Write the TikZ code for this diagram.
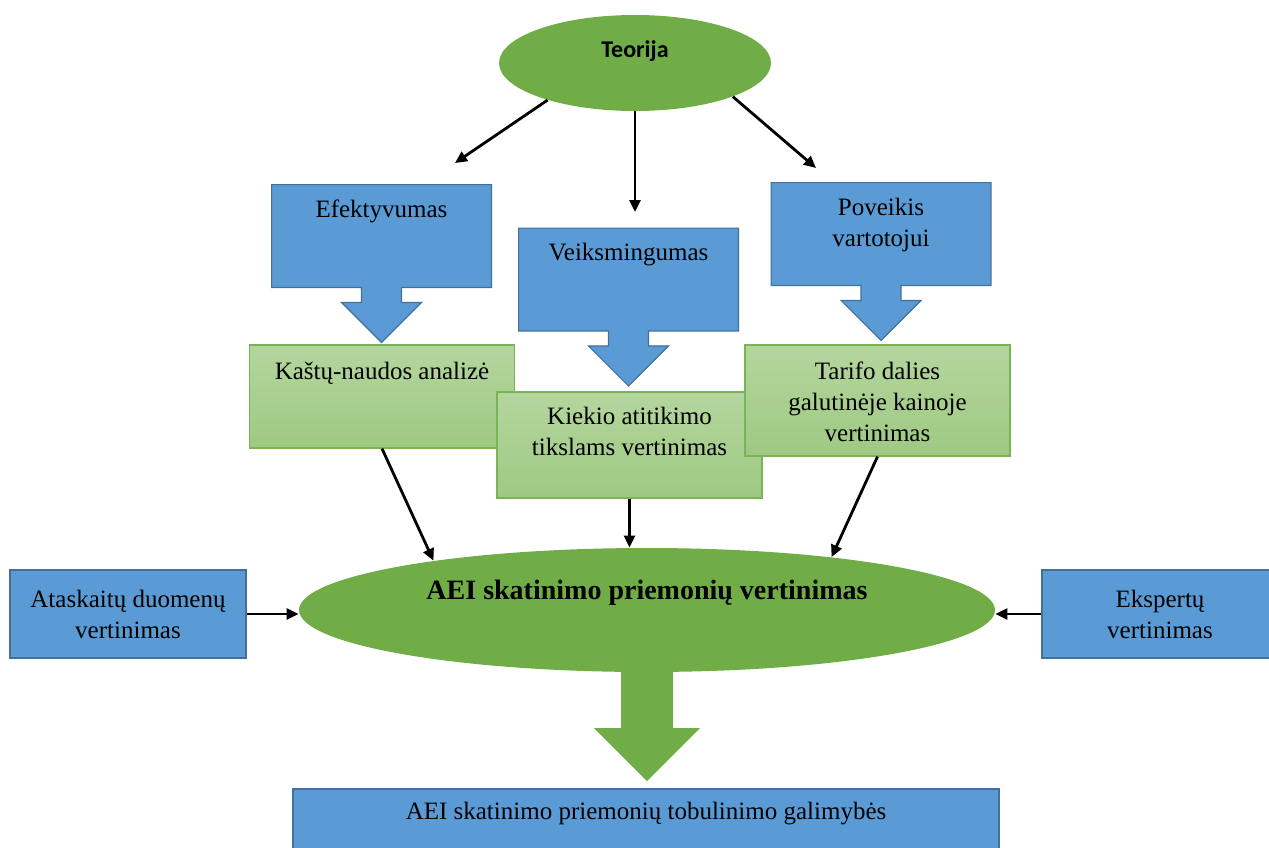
\documentclass[tikz,border=0pt]{standalone}
\usepackage{fontspec}
\setmainfont{Liberation Serif}
\newfontfamily\teorfont{Carlito}
\usetikzlibrary{shapes.geometric, arrows.meta, backgrounds}

\definecolor{boxblue}{RGB}{91,155,213}
\definecolor{boxline}{RGB}{65,113,156}
\definecolor{ovalgreen}{RGB}{112,173,71}
\definecolor{palegreen}{RGB}{180,214,158}
\definecolor{midgreen}{RGB}{158,201,130}
\definecolor{greenline}{RGB}{122,180,86}

\tikzset{
  txt/.style={font=\fontsize{12.5}{15.5}\selectfont},
  bluebox/.style={txt, rectangle, draw=boxline, fill=boxblue, line width=0.6pt, align=center, inner sep=0pt},
  callbox/.style={rectangle, inner sep=0pt, minimum width=109.5pt, minimum height=51pt},
  callfill/.style={draw=boxline, fill=boxblue, line width=0.6pt},
  greenbox/.style={rectangle, draw=greenline, line width=0.6pt, top color=palegreen, bottom color=midgreen, minimum width=132.5pt, inner sep=0pt},
  toptext/.style={txt, anchor=north, yshift=-7.5pt, align=center, inner sep=0pt},
  oval/.style={ellipse, fill=ovalgreen, inner sep=0pt},
  conn/.style={-{Triangle[length=6pt,width=5.5pt]}, line width=1.4pt},
}

\newcommand{\downcallout}[1]{%
  \filldraw[callfill] (#1.north west) -- (#1.north east) -- (#1.south east)
    -- ([xshift=10pt]#1.south) -- ++(0,15) -- ++(20,0) -- ++(-40,40)
    -- ++(-40,-40) -- ++(20,0) -- ++(0,-15) -- (#1.south west) -- cycle;}

\begin{document}
\begin{tikzpicture}[x=0.5pt, y=-0.5pt]
\useasboundingbox (0,0) rectangle (1269,847);

\node[oval, minimum width=136pt, minimum height=48pt, font=\teorfont\bfseries\fontsize{12}{14}\selectfont, text height=9pt, text depth=14.3pt] (teorija) at (635,63) {Teorija};

\node[callbox, label={[toptext]north:Efektyvumas}] (efk) at (381.5,236) {};
\node[callbox, label={[toptext]north:Veiksmingumas}] (vks) at (628.5,279.5) {};
\node[callbox, label={[toptext]north:Poveikis\\vartotojui}] (pov) at (881,234) {};

\node[greenbox, minimum height=51.5pt, label={[toptext, yshift=-1pt]north:Kaštų-naudos analizė}] (kastu) at (382,396.5) {};
\node[greenbox, minimum height=53pt, label={[toptext]north:Kiekio atitikimo\\tikslams vertinimas}] (kiekio) at (629.5,445) {};
\node[greenbox, minimum height=55.5pt, label={[toptext, yshift=-1pt]north:Tarifo dalies\\galutinėje kainoje\\vertinimas}] (tarifo) at (877.5,400.5) {};

\node[oval, minimum width=348pt, minimum height=62pt, font=\bfseries\fontsize{14}{17}\selectfont, text height=10pt, text depth=21pt] (central) at (647,610) {AEI skatinimo priemonių vertinimas};

\node[bluebox, minimum width=118pt, minimum height=44pt] (atask) at (128,614) {Ataskaitų duomenų\\vertinimas};
\node[bluebox, minimum width=118pt, minimum height=44pt] (eksp) at (1160,614) {Ekspertų\\vertinimas};
\node[bluebox, minimum width=353pt, minimum height=45pt, label={[toptext, yshift=1pt]north:AEI skatinimo priemonių tobulinimo galimybės}] (galim) at (646,834) {};

\begin{scope}[on background layer]
  \foreach \b in {efk,vks,pov} {\downcallout{\b}}
  \fill[ovalgreen] ([xshift=-13pt]central.center) -- ++(0,118) -- ++(-27,0) -- ++(53,53)
    -- ++(53,-53) -- ++(-27,0) -- ++(0,-118) -- cycle;
\end{scope}

\coordinate (tl) at (455,163);
\coordinate (tm) at (635,212);
\coordinate (tr) at (816,168);
\draw[conn] (teorija.203) -- (tl);
\draw[conn] (teorija.south) -- (tm);
\draw[conn] (teorija.-19) -- (tr);
\draw[conn] (kastu.south) -- (central.167);
\draw[conn] (kiekio.south) -- (kiekio.south |- central.north);
\draw[conn] (tarifo.south) -- (central.16);
\draw[conn] (atask.east) -- (atask.east -| central.west);
\draw[conn] (eksp.west) -- (eksp.west -| central.east);
\end{tikzpicture}
\end{document}
